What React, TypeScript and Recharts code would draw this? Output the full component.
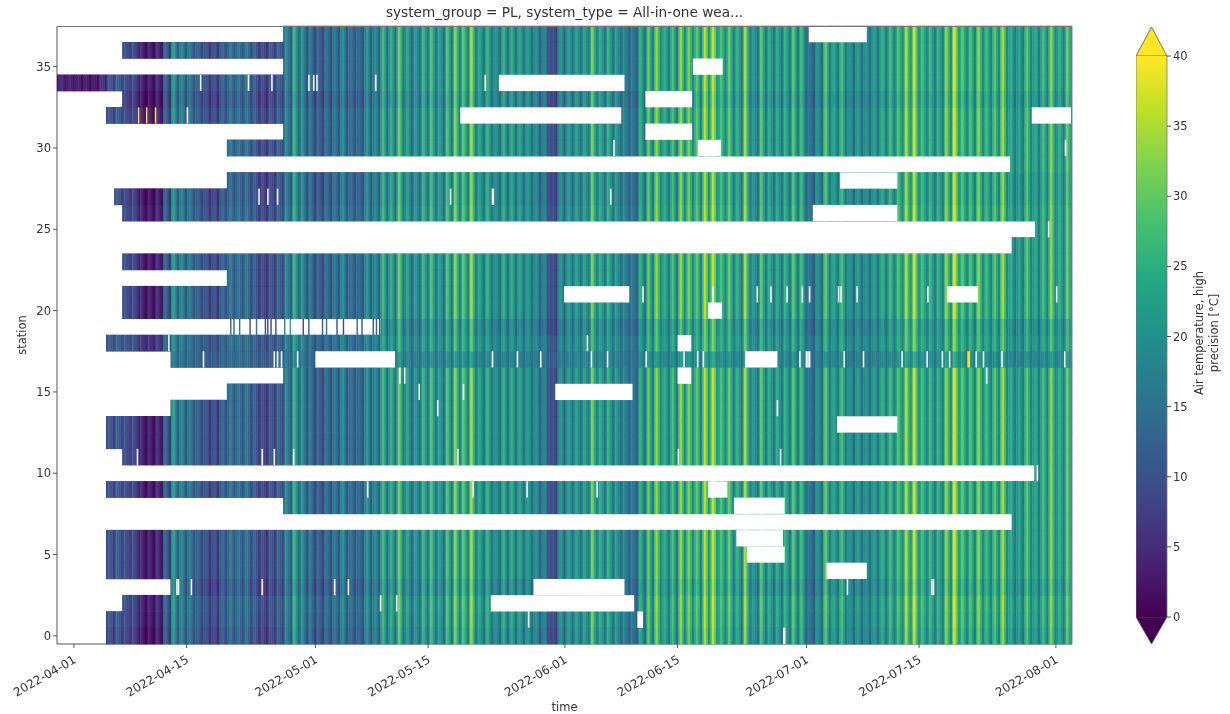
import { ScatterChart, Scatter, XAxis, YAxis, BarChart, Bar, Label } from 'recharts';

// time axis is in days since 2022-04-01
const DAY_MIN = -2.1;
const DAY_MAX = 124;
const PLOT_W = 1015;
const PLOT_H = 618;
const DAY_PX = PLOT_W / (DAY_MAX - DAY_MIN);
const ROW_PX = PLOT_H / 38;

const dayTicks = [0, 14, 30, 44, 61, 75, 91, 105, 122];
const dayLabels = ['2022-04-01', '2022-04-15', '2022-05-01', '2022-05-15', '2022-06-01', '2022-06-15', '2022-07-01', '2022-07-15', '2022-08-01'];
const stationTicks = [0, 5, 10, 15, 20, 25, 30, 35];
const colorTicks = [0, 5, 10, 15, 20, 25, 30, 35, 40];

// daytime peak per day, first entry is day -2
const dayHigh = [
  6, 5, 4, 4, 3, 6, 12, 14, 11, 11, 6, 5, 7, 16, 25, 21, 19, 15, 13, 12, 15, 18, 17, 18, 14, 11, 12, 14, 20, 27, 22, 18, 15, 17, 18, 22, 17, 16, 23, 21, 28,
  26, 32, 25, 23, 27, 29, 24, 29, 33, 30, 35, 25, 27, 22, 27, 26, 25, 24, 22, 20, 10,
  22, 24, 24, 24, 32, 25, 26, 23, 19, 17, 26, 31, 34, 26, 29, 34, 32, 30, 36, 37, 29,
  31, 26, 35, 22, 30, 25, 25, 26, 30, 28, 17, 22, 31, 25, 29, 22, 24, 22, 24, 26, 28, 29, 35, 37, 28, 27, 26, 33, 38, 30, 29, 33, 28, 30, 35, 26, 25, 30, 25, 28, 33, 26, 31,
];
// morning and evening level around each peak
const dayShoulder = [
  4, 3, 3, 3, 2, 5, 10, 11, 9, 8, 3, 3, 4, 11, 19, 16, 15, 12, 10, 9, 12, 14, 14, 14, 11, 8, 10, 11, 16, 21, 17, 14, 12, 14, 15, 17, 14, 13, 18, 17, 22,
  21, 25, 20, 19, 22, 23, 20, 23, 26, 25, 27, 21, 22, 19, 21, 21, 20, 20, 18, 16, 9,
  18, 20, 20, 20, 25, 21, 21, 19, 17, 15, 21, 24, 27, 22, 23, 27, 26, 25, 29, 30, 24,
  25, 22, 27, 19, 24, 21, 21, 22, 24, 23, 15, 19, 25, 21, 24, 19, 20, 19, 20, 22, 23, 24, 28, 30, 24, 22, 22, 27, 31, 25, 24, 27, 24, 25, 28, 22, 21, 25, 22, 24, 27, 22, 25,
];
// night value following each peak
const nightLow = [
  2, 2, 1, 1, 1, 3, 7, 8, 7, 5, 1, 1, 2, 6, 11, 10, 10, 8, 6, 6, 9, 10, 10, 9, 7, 5, 7, 8, 11, 13, 10, 8, 8, 9, 10, 10, 10, 10, 11, 12, 14,
  14, 15, 13, 13, 15, 15, 14, 15, 17, 17, 17, 15, 15, 14, 14, 14, 14, 14, 12, 10, 7,
  12, 14, 14, 15, 17, 15, 15, 14, 13, 12, 14, 16, 19, 16, 15, 18, 18, 17, 20, 21, 18,
  17, 15, 18, 14, 16, 15, 15, 15, 16, 14, 11, 13, 16, 15, 15, 13, 14, 14, 15, 15, 16, 18, 20, 20, 18, 16, 16, 18, 22, 18, 17, 18, 17, 17, 18, 15, 15, 17, 15, 17, 18, 16, 18,
];

// per station, index = station number
const stationStart = [4, 4, 6, 12, 4, 4, 4, 116.5, 26, 4, 119.3, 6, 4, 4, 12, 19, 26, 12, 4, 38.1, 6, 6, 19, 6, 116.5, 119.4, 6, 5, 19, 116.3, 19, 26, 4, 6, -2.1, 26, 6, 26];
const stationShift = [-1, 0, 0.5, -1.5, 0, 0, 0, 0, 0, 0, 0, 0, 0, 0, 0, 0, 0, -1, 0, -2, 0, 0, 0, 0, 0, 0, 0, -1, -1, 0, 0, 0, 0, -1.5, 0, 0, 0, 0];
const stationSwing = [1, 1, 1, 1, 1, 1, 1, 1, 1, 1, 1, 1, 1, 1, 1, 1, 1, 0.5, 0.8, 0.9, 1, 1, 1, 1, 1, 1, 1, 1, 1, 1, 1, 1, 1, 1, 1, 1, 1, 1];

// [station, from day, to day]
const gaps = [
  [37, 91.3, 98.5], [35, 76.9, 80.6], [34, 52.8, 68.4], [33, 71, 76.8], [32, 48, 68], [32, 119, 124], [31, 71, 76.8], [30, 77.5, 80.4],
  [28, 95.2, 102.3], [26, 91.8, 102.3], [21, 60.9, 69], [21, 108.5, 112.3], [20, 78.8, 80.5], [18, 75, 76.7], [17, 30, 39.9], [17, 83.4, 87.4],
  [16, 75, 76.7], [15, 59.8, 69.4], [13, 94.8, 102.3], [9, 78.8, 81.2], [8, 82, 88.3], [6, 82.3, 88.1], [5, 83.6, 88.3], [4, 93.5, 98.5],
  [3, 57.1, 68.4], [2, 51.8, 69.6], [1, 70, 70.7],
];

// single missing samples: [station, day]
const dropouts = [
  [34, 15.65], [34, 21.6], [34, 24.5], [34, 29.1], [34, 29.7], [34, 30.1], [34, 37.4], [34, 51],
  [32, 14], [30, 67], [30, 123.1],
  [27, 22.9], [27, 24], [27, 25.2], [27, 46.7], [27, 51.9], [27, 52], [27, 66.6], [25, 121],
  [21, 70.6], [21, 79.3], [21, 84.8], [21, 86.5], [21, 88.5], [21, 90.4], [21, 91.3], [21, 94.9], [21, 95.2], [21, 97.2], [21, 106], [21, 122],
  [18, 11.7], [18, 63.7],
  [17, 16], [17, 24.8], [17, 25.2], [17, 25.7], [17, 27.7], [17, 51.9], [17, 55], [17, 57.9], [17, 64.2], [17, 66.2], [17, 71], [17, 75.7], [17, 77.4], [17, 78.1],
  [17, 90.1], [17, 90.9], [17, 91.1], [17, 91.3], [17, 95.6], [17, 98], [17, 102.8], [17, 105.9], [17, 107.8], [17, 108.7], [17, 112], [17, 112.9], [17, 115.2], [17, 123],
  [16, 40.4], [16, 41], [16, 113.3], [15, 42.8], [15, 48.3], [14, 45.1], [14, 87.3],
  [11, 7.8], [11, 23.3], [11, 24.8], [11, 27.2], [11, 47.6], [11, 75], [11, 87.7], [10, 119.6],
  [9, 36.4], [9, 49.5], [9, 56.2], [9, 64.9],
  [3, 12.7], [3, 12.9], [3, 14.5], [3, 23.3], [3, 32.3], [3, 34], [3, 96], [3, 106.5], [3, 106.7],
  [2, 38], [2, 40], [1, 56.4], [0, 88.1], [0, 88.2],
];

// isolated readings: [station, day, value]
const spikes = [
  [32, 7.95, 40], [32, 8.95, 40], [32, 10.05, 40], [17, 111, 40], [17, 111.15, 40],
  [19, 19.4, 15], [19, 19.8, 14], [19, 20.5, 16], [19, 21.8, 10], [19, 22.6, 17], [19, 23.7, 9], [19, 24, 10], [19, 24.4, 9], [19, 25, 10], [19, 26.1, 20], [19, 26.8, 24],
  [19, 28.4, 10], [19, 29.1, 12], [19, 30.8, 13], [19, 31.3, 16], [19, 32.6, 11], [19, 33.4, 10], [19, 35.1, 16], [19, 35.7, 12], [19, 37.1, 12], [19, 37.5, 13], [19, 37.9, 10],
];

const viridis = [
  '#440154', '#482475', '#414487', '#355f8d', '#2a788e', '#21918c', '#22a884', '#44bf70', '#7ad151', '#bddf26', '#fde725',
];

function rgb(hex: string) {
  return [1, 3, 5].map(i => parseInt(hex.slice(i, i + 2), 16));
}

function valueColor(v: number) {
  const t = (Math.max(0, Math.min(40, v)) / 40) * (viridis.length - 1);
  const i = Math.min(Math.floor(t), viridis.length - 2);
  const a = rgb(viridis[i]);
  const b = rgb(viridis[i + 1]);
  const c = a.map((ch, k) => Math.round(ch + (b[k] - ch) * (t - i)));
  return `rgb(${c[0]},${c[1]},${c[2]})`;
}

interface Cell { x: number; y: number; w: number; fill: string }

const cells: Cell[] = [];
stationStart.forEach((start, s) => {
  const push = (from: number, to: number, v: number) => {
    const a = Math.max(from, start, DAY_MIN);
    const b = Math.min(to, DAY_MAX);
    if (b <= a) return;
    const mid = 16;
    const val = mid + (v - mid) * stationSwing[s] + stationShift[s];
    cells.push({ x: a, y: s, w: b - a, fill: valueColor(val) });
  };
  dayHigh.forEach((high, i) => {
    const d = i - 2;
    if (i === 0) push(DAY_MIN, d + 0.08, nightLow[0]);
    push(d + 0.08, d + 0.26, dayShoulder[i]);
    push(d + 0.26, d + 0.54, high);
    push(d + 0.54, d + 0.78, dayShoulder[i]);
    push(d + 0.78, d + 1.08, nightLow[i]);
  });
});

const blanks: Cell[] = [
  ...gaps.map(([s, a, b]) => ({ x: a, y: s, w: b - a, fill: '#ffffff' })),
  ...dropouts.map(([s, d]) => ({ x: d, y: s, w: 0.2, fill: '#f2f4f6' })),
  ...spikes.map(([s, d, v]) => ({ x: d, y: s, w: 0.18, fill: valueColor(v) })),
];

function CellShape(props: { cx?: number; cy?: number; payload?: Cell }) {
  const { cx = 0, cy = 0, payload } = props;
  if (!payload) return null;
  return <rect x={cx} y={cy - ROW_PX / 2 - 0.3} width={payload.w * DAY_PX + 0.4} height={ROW_PX + 0.6} fill={payload.fill} />;
}

function BlankShape(props: { cx?: number; cy?: number; payload?: Cell }) {
  const { cx = 0, cy = 0, payload } = props;
  if (!payload) return null;
  return <rect x={cx} y={cy - ROW_PX / 2} width={payload.w * DAY_PX} height={ROW_PX} fill={payload.fill} />;
}

function DateTick(props: { x?: number; y?: number; payload?: { value: number } }) {
  const { x = 0, y = 0, payload } = props;
  const label = dayLabels[dayTicks.indexOf(payload?.value ?? -1)];
  return (
    <text x={x + 3} y={y + 12} textAnchor="end" fontSize={12} fill="#333" transform={`rotate(-30 ${x + 3} ${y + 12})`}>
      {label}
    </text>
  );
}

function ColorBarShape(props: { x?: number; y?: number; width?: number; height?: number }) {
  const { x = 0, y = 0, width = 0, height = 0 } = props;
  const mid = x + width / 2;
  return (
    <g>
      <polygon points={`${x},${y} ${mid},${y - 29} ${x + width},${y}`} fill="#fde725" stroke="#555" strokeWidth={0.8} />
      <polygon points={`${x},${y + height} ${mid},${y + height + 27} ${x + width},${y + height}`} fill="#440154" stroke="#555" strokeWidth={0.8} />
      <rect x={x} y={y} width={width} height={height} fill="url(#viridisBar)" />
      <line x1={x} x2={x} y1={y} y2={y + height} stroke="#777" strokeWidth={0.8} />
      <line x1={x + width} x2={x + width} y1={y} y2={y + height} stroke="#777" strokeWidth={0.8} />
    </g>
  );
}

const axisText = { fontSize: 11.5, fill: '#333' };
const colorData = [{ name: 'temp', value: 40 }];

export default function App() {
  return (
    <div style={{ position: 'absolute', left: 0, top: 0, width: 1230, height: 714, background: '#fff', fontFamily: '"DejaVu Sans", sans-serif', filter: 'blur(0.6px)', overflow: 'hidden' }}>
      <div style={{ position: 'absolute', left: 57, top: 4, width: PLOT_W, textAlign: 'center', fontSize: 13.65, color: '#333' }}>
        system_group = PL, system_type = All-in-one wea...
      </div>

      <ScatterChart width={1230} height={714} margin={{ top: 26, right: 158, left: 0, bottom: 0 }} style={{ position: 'absolute', left: 0, top: 0 }}>
        <XAxis
          type="number"
          dataKey="x"
          domain={[DAY_MIN, DAY_MAX]}
          ticks={dayTicks}
          tick={<DateTick />}
          height={70}
          interval={0}
          stroke="#555"
          tickSize={4}
        >
          <Label value="time" position="insideBottom" offset={3} style={{ fontSize: 11.5, fill: '#333' }} />
        </XAxis>
        <YAxis
          type="number"
          dataKey="y"
          domain={[-0.5, 37.5]}
          ticks={stationTicks}
          tick={axisText}
          width={57}
          interval={0}
          stroke="#555"
          tickSize={4}
        >
          <Label value="station" angle={-90} position="insideLeft" offset={22} style={{ fontSize: 11.5, fill: '#333', textAnchor: 'middle' }} />
        </YAxis>
        <Scatter data={cells} shape={CellShape} isAnimationActive={false} />
        <Scatter data={blanks} shape={BlankShape} isAnimationActive={false} />
      </ScatterChart>

      <div style={{ position: 'absolute', left: 57, top: 26, width: PLOT_W, height: PLOT_H, boxSizing: 'border-box', borderTop: '1px solid #777', borderRight: '1px solid #777', pointerEvents: 'none' }} />

      <BarChart
        width={94}
        height={714}
        data={colorData}
        margin={{ top: 56, right: 0, left: 0, bottom: 97 }}
        barCategoryGap={0}
        style={{ position: 'absolute', left: 1136, top: 0, overflow: 'visible' }}
      >
        <defs>
          <linearGradient id="viridisBar" x1="0" y1="1" x2="0" y2="0">
            {viridis.map((c, i) => (
              <stop key={c} offset={i / (viridis.length - 1)} stopColor={c} />
            ))}
          </linearGradient>
        </defs>
        <XAxis dataKey="name" hide />
        <YAxis
          orientation="right"
          type="number"
          domain={[0, 40]}
          ticks={colorTicks}
          tick={axisText}
          width={63}
          interval={0}
          axisLine={false}
          stroke="#555"
          tickSize={4}
        >
          <Label
            content={() => (
              <g fontSize={11.5} fill="#333" textAnchor="middle">
                <text transform="translate(67 333) rotate(-90)">Air temperature, high</text>
                <text transform="translate(82 333) rotate(-90)">precision [°C]</text>
              </g>
            )}
          />
        </YAxis>
        <Bar dataKey="value" shape={ColorBarShape} isAnimationActive={false} />
      </BarChart>
    </div>
  );
}
